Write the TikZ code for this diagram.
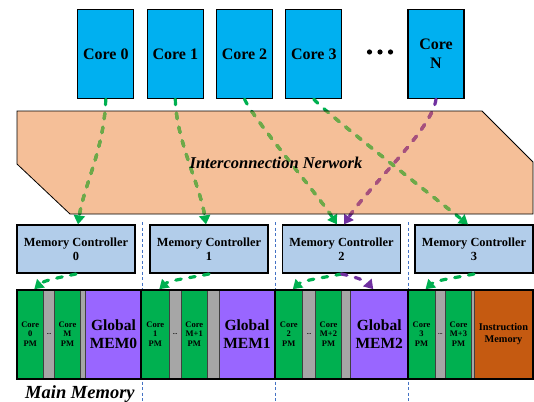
\documentclass[tikz,border=0pt]{standalone}
\usepackage{fontspec}
\setmainfont{Liberation Serif}
\usetikzlibrary{arrows.meta,calc}

\definecolor{coreblue}{RGB}{0,176,240}
\definecolor{netfill}{RGB}{245,191,152}
\definecolor{mcfill}{RGB}{178,205,234}
\definecolor{pmgreen}{RGB}{0,176,80}
\definecolor{pmgray}{RGB}{166,166,166}
\definecolor{memviolet}{RGB}{153,102,255}
\definecolor{imorange}{RGB}{197,90,17}
\definecolor{sepblue}{RGB}{68,114,196}
\definecolor{arrgreen}{RGB}{0,176,80}
\definecolor{arrolive}{RGB}{112,168,70}
\definecolor{arrpurple}{RGB}{112,48,160}
\definecolor{arrmauve}{RGB}{168,80,122}

\tikzset{
  corebox/.style={rectangle, draw=black, line width=1.3pt, fill=coreblue,
    minimum width=56pt, minimum height=89pt, inner sep=0pt, align=center,
    font=\bfseries\fontsize{16}{19}\selectfont},
  mcbox/.style={rectangle, draw=black, line width=1.6pt, fill=mcfill,
    minimum width=118pt, minimum height=48pt, inner sep=0pt, align=center,
    font=\bfseries\fontsize{12.4}{14.4}\selectfont},
  seg/.style={rectangle, draw=black!75, line width=0.6pt, inner sep=0pt,
    minimum height=89pt, align=center},
  pmseg/.style={seg, fill=pmgreen, font=\bfseries\fontsize{8.5}{9.3}\selectfont},
  gapseg/.style={seg, fill=pmgray, font=\bfseries\fontsize{6}{6}\selectfont},
  memseg/.style={seg, fill=memviolet, font=\bfseries\fontsize{15.5}{18.3}\selectfont},
  insseg/.style={seg, fill=imorange, font=\bfseries\fontsize{10.3}{12}\selectfont},
  flow/.style={line width=3.2pt, line cap=round, dash pattern=on 5.6pt off 8.5pt},
  gflow/.style={flow, draw=arrgreen, -{Triangle[width=11pt,length=9pt]}},
  pflow/.style={flow, draw=arrpurple, -{Triangle[width=11pt,length=9pt]}},
  sepline/.style={draw=sepblue, line width=0.7pt, dash pattern=on 3pt off 2.5pt},
}

% outline of the interconnection network
\def\netshape{(17,111) -- (482,111) -- (533,162) -- (533,214) -- (70,214) -- (17,164) -- cycle}

% core -> memory controller routes
\def\arrA{(c0.south) .. controls (104,150) and (84,185) .. ($(mc0.north)+(2,0)$)}
\def\arrB{(c1.south) .. controls (176,140) and (200,185) .. ($(mc1.north)+(-3,0)$)}
\def\arrC{(c2.south) .. controls (254,120) and (318,195) .. ($(mc2.north)+(-4.5,0)$)}
\def\arrD{(c3.south) .. controls (322,110) and (450,210) .. ($(mc3.north)+(-6,0)$)}
\def\arrN{(cN.south) .. controls (432,130) and (370,185) .. ($(mc2.north)+(2.5,0)$)}

\begin{document}
\begin{tikzpicture}[x=1pt,y=-1pt]
\useasboundingbox (0,0) rectangle (534,401);

% column separators
\foreach \sx in {142.5,275,408}
  \draw[sepline] (\sx,222) -- (\sx,401);

% cores
\node[corebox] (c0) at (105.8,54) {Core 0};
\node[corebox] (c1) at (175.3,54) {Core 1};
\node[corebox] (c2) at (244.5,54) {Core 2};
\node[corebox] (c3) at (313.8,54) {Core 3};
\node[corebox] (cN) at (436,54) {Core\\N};
\foreach \dx in {369.5,380,390.5}
  \fill[black] (\dx,52) circle (2.6pt);

% memory controllers
\node[mcbox] (mc0) at (76,249.2) {Memory Controller\\0};
\node[mcbox] (mc1) at (209,249.2) {Memory Controller\\1};
\node[mcbox] (mc2) at (341.5,249.2) {Memory Controller\\2};
\node[mcbox] (mc3) at (474,249.2) {Memory Controller\\3};

% interconnection network
\fill[netfill] \netshape;
\draw[gflow] \arrA;
\draw[gflow] \arrB;
\draw[gflow] \arrC;
\draw[gflow] \arrD;
\draw[pflow] \arrN;
\begin{scope}
  \clip \netshape;
  \draw[gflow, draw=arrolive] \arrA;
  \draw[gflow, draw=arrolive] \arrB;
  \draw[gflow, draw=arrolive] \arrC;
  \draw[gflow, draw=arrolive] \arrD;
  \draw[pflow, draw=arrmauve] \arrN;
\end{scope}
\draw[black, line width=0.8pt] \netshape;
\node[font=\bfseries\itshape\fontsize{16.5}{18}\selectfont] (net) at (276,163) {Interconnection Nerwork};

% main memory, section 0
\node[pmseg, minimum width=26.5pt] (pm0a) at (30.25,334) {Core\\0\\PM};
\node[gapseg, minimum width=11pt] (d0) at (49,334) {...};
\node[pmseg, minimum width=26pt] (pm0b) at (67.5,334) {Core\\M\\PM};
\node[gapseg, minimum width=5pt] (s0) at (83,334) {};
\node[memseg, minimum width=56pt] (g0) at (113.5,334) {Global\\MEM0};
% section 1
\node[pmseg, minimum width=27.5pt] (pm1a) at (155.25,334) {Core\\1\\PM};
\node[gapseg, minimum width=12pt] (d1) at (175,334) {...};
\node[pmseg, minimum width=26.5pt] (pm1b) at (194.25,334) {Core\\M+1\\PM};
\node[gapseg, minimum width=11.5pt] (s1) at (213.25,334) {};
\node[memseg, minimum width=56pt] (g1) at (247,334) {Global\\MEM1};
% section 2
\node[pmseg, minimum width=27.5pt] (pm2a) at (288.75,334) {Core\\2\\PM};
\node[gapseg, minimum width=13pt] (d2) at (309,334) {...};
\node[pmseg, minimum width=26pt] (pm2b) at (328.5,334) {Core\\M+2\\PM};
\node[gapseg, minimum width=9pt] (s2) at (346,334) {};
\node[memseg, minimum width=57.5pt] (g2) at (379.25,334) {Global\\MEM2};
% section 3
\node[pmseg, minimum width=27pt] (pm3a) at (421.5,334) {Core\\3\\PM};
\node[gapseg, minimum width=10.5pt] (d3) at (440.25,334) {...};
\node[pmseg, minimum width=26pt] (pm3b) at (458.5,334) {Core\\M+3\\PM};
\node[gapseg, minimum width=3pt] (s3) at (473,334) {};
\node[insseg, minimum width=58pt] (im) at (503.5,334) {Instruction\\Memory};

% outer frame and section dividers
\node[rectangle, draw=black, line width=2pt, minimum width=515.5pt,
      minimum height=89pt, inner sep=0pt] (mm) at (274.75,334) {};
\foreach \sn in {pm1a,pm2a,pm3a}
  \draw[black, line width=2pt] (mm.north -| \sn.west) -- (mm.south -| \sn.west);

\node[anchor=base west, inner sep=0pt,
      font=\bfseries\itshape\fontsize{18.5}{20}\selectfont] (mmlabel) at (25,398.5) {Main Memory};

% memory controller -> local memory routes
\draw[gflow] (mc0.south) .. controls +(-14,3) and +(10,-9) .. ($(pm0a.north)+(4,0)$);
\draw[gflow] (mc1.south) .. controls +(-14,3) and +(10,-9) .. ($(pm1a.north)+(4,0)$);
\draw[gflow] (mc2.south) .. controls +(-14,3) and +(10,-9) .. ($(pm2a.north)+(4,0)$);
\draw[gflow] (mc3.south) .. controls +(-14,3) and +(10,-9) .. ($(pm3a.north)+(4,0)$);
\draw[pflow] (mc2.south) .. controls +(10,2) and +(-8,-9) .. ($(g2.north)+(-6,0)$);
\end{tikzpicture}
\end{document}
